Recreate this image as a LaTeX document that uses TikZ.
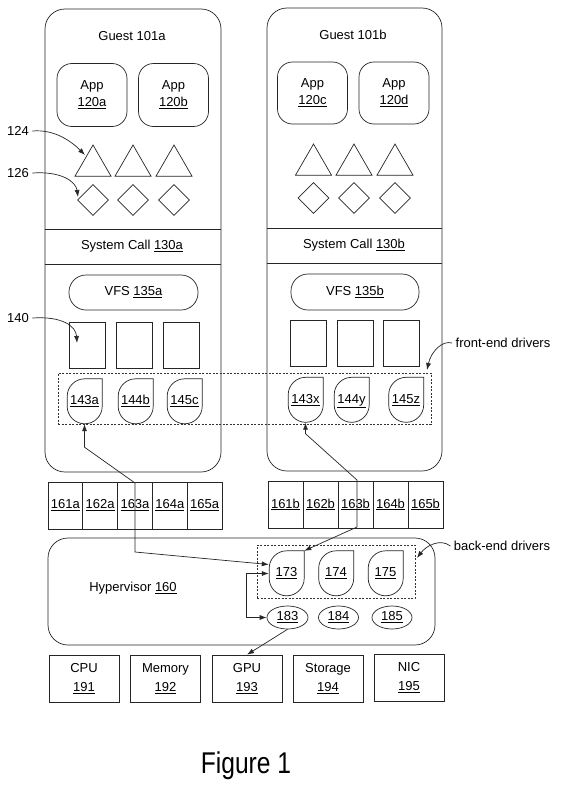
\documentclass[tikz,border=0pt]{standalone}
\usepackage{fontspec}
\usepackage{graphicx}
\setmainfont{Liberation Sans}
\usetikzlibrary{shapes.geometric,arrows.meta,calc}
\newcommand\dropnode[3]{%
  \node[dropbox] (#1) at (#2) {\underline{#3}};
  \draw[ln] (#1.north) -- (#1.north east) -- ++(0pt,-27.5pt)
    arc[start angle=0,end angle=-180,radius=17.5pt] -- ++(0pt,10pt)
    arc[start angle=180,end angle=90,radius=17.5pt] -- cycle;}
\begin{document}
\begin{tikzpicture}[x=1pt,y=-1pt,
  every node/.style={font=\fontsize{13}{17}\selectfont},
  ln/.style={draw=black!85, line width=0.7pt},
  guest/.style={ln, rounded corners=20pt, minimum width=176pt, minimum height=463pt, inner sep=0pt},
  app/.style={ln, rounded corners=15pt, minimum width=70pt, minimum height=63pt, align=center, inner sep=0pt},
  tri/.style={ln, regular polygon, regular polygon sides=3, minimum size=41.6pt, inner sep=0pt},
  dia/.style={ln, diamond, minimum width=31pt, minimum height=31pt, inner sep=0pt},
  vfs/.style={ln, rounded corners=17pt, minimum width=129pt, minimum height=35pt, inner sep=0pt},
  sq/.style={ln, minimum width=36pt, minimum height=46pt, inner sep=0pt},
  dropbox/.style={minimum width=35pt, minimum height=45pt, inner sep=0pt, text height=9.5pt, text depth=3pt},
  cell/.style={ln, minimum width=34.8pt, minimum height=47pt, inner sep=0pt},
  hw/.style={ln, minimum width=70pt, minimum height=47pt, align=center, inner sep=0pt, font=\fontsize{13}{19}\selectfont},
  ell/.style={ln, ellipse, minimum width=41pt, minimum height=23pt, inner sep=0pt},
  dbox/.style={draw=black!80, line width=0.6pt, dash pattern=on 2pt off 1.5pt, inner sep=0pt},
  arr/.style={ln, -{Latex[length=7pt,width=5pt]}},
  darr/.style={ln, {Latex[length=7pt,width=5pt]}-{Latex[length=7pt,width=5pt]}}
]
\useasboundingbox (0,0) rectangle (565,787);
\fill[white] (0,0) rectangle (565,787);

% Guests
\node[guest] (g1) at (133,240.5) {};
\node[guest, minimum width=175pt, minimum height=463pt] (g2) at (354.5,239.5) {};
\node (g1t) at (132,36) {Guest 101a};
\node (g2t) at (353,35) {Guest 101b};

% Apps
\node[app] (a1) at (92,95) {App\\\underline{120a}};
\node[app] (a2) at (173.5,95) {App\\\underline{120b}};
\node[app, minimum height=62pt] (a3) at (312.5,93) {App\\\underline{120c}};
\node[app, minimum height=62pt] (a4) at (394,93) {App\\\underline{120d}};

% Triangles
\node[tri] (t1) at (93,165.8) {};
\node[tri] (t2) at (133,165.8) {};
\node[tri] (t3) at (174,165.8) {};
\node[tri] (t4) at (313.5,164.8) {};
\node[tri] (t5) at (354,164.8) {};
\node[tri] (t6) at (395,164.8) {};

% Diamonds
\node[dia] (d1) at (93,200) {};
\node[dia] (d2) at (133,200) {};
\node[dia] (d3) at (174,200) {};
\node[dia] (d4) at (313.5,198) {};
\node[dia] (d5) at (354,198) {};
\node[dia] (d6) at (395,198) {};

% System call bands
\draw[ln] (g1.west |- 0,229) -- (g1.east |- 0,229);
\draw[ln] (g1.west |- 0,264) -- (g1.east |- 0,264);
\draw[ln] (g2.west |- 0,228) -- (g2.east |- 0,228);
\draw[ln] (g2.west |- 0,263) -- (g2.east |- 0,263);
\node (sc1) at (132,246) {System Call \underline{130a}};
\node (sc2) at (354,245) {System Call \underline{130b}};

% VFS
\node[vfs] (v1) at (133.5,292.5) {VFS \underline{135a}};
\node[vfs, minimum width=128pt, minimum height=36pt] (v2) at (355,292) {VFS \underline{135b}};

% Rectangles 140
\node[sq] (r1) at (87.5,345) {};
\node[sq] (r2) at (134.5,345) {};
\node[sq] (r3) at (181,345) {};
\node[sq] (r4) at (308.5,343.5) {};
\node[sq] (r5) at (355,343.5) {};
\node[sq] (r6) at (401.5,343.5) {};

% Front-end drivers
\node[dbox, minimum width=373pt, minimum height=51pt] (fdash) at (244.5,398.5) {};
\dropnode{f1}{84.5,401.5}{143a}
\dropnode{f2}{135.5,401.5}{144b}
\dropnode{f3}{184.5,401.5}{145c}
\dropnode{f4}{305.5,400}{143x}
\dropnode{f5}{351.5,400}{144y}
\dropnode{f6}{406,400}{145z}

% Cells
\node[cell] (c1) at (65.4,505.5) {\underline{161a}};
\node[cell] (c2) at (100.2,505.5) {\underline{162a}};
\node[cell] (c3) at (135,505.5) {\underline{163a}};
\node[cell] (c4) at (169.8,505.5) {\underline{164a}};
\node[cell] (c5) at (204.6,505.5) {\underline{165a}};
\node[cell, minimum width=35pt] (c6) at (285.5,504.5) {\underline{161b}};
\node[cell, minimum width=35pt] (c7) at (320.5,504.5) {\underline{162b}};
\node[cell, minimum width=35pt] (c8) at (355.5,504.5) {\underline{163b}};
\node[cell, minimum width=35pt] (c9) at (390.5,504.5) {\underline{164b}};
\node[cell, minimum width=35pt] (c10) at (425.5,504.5) {\underline{165b}};

% Hypervisor
\node[ln, rounded corners=20pt, minimum width=387pt, minimum height=107pt, inner sep=0pt] (hv) at (241.5,591.5) {};
\node (hvt) at (133,588) {Hypervisor \underline{160}};
\node[dbox, minimum width=158pt, minimum height=53pt] (bdash) at (336,571.5) {};
\dropnode{b1}{286.5,573.5}{173}
\dropnode{b2}{336,573.5}{174}
\dropnode{b3}{385.5,573.5}{175}
\node[ell] (e1) at (287.5,617.5) {\underline{183}};
\node[ell, minimum width=40pt] (e2) at (338.5,617.5) {\underline{184}};
\node[ell, minimum width=40pt] (e3) at (392,617.5) {\underline{185}};

% Hardware
\node[hw] (cpu) at (84,678.5) {CPU\\\underline{191}};
\node[hw] (mem) at (165.5,678.5) {Memory\\\underline{192}};
\node[hw] (gpu) at (247,678.5) {GPU\\\underline{193}};
\node[hw] (sto) at (328,678.5) {Storage\\\underline{194}};
\node[hw] (nic) at (409,678) {NIC\\\underline{195}};

% Connectors
\draw[darr] (f1.south) -- ++(0,23) -- (135,483) -- (135,552) -- ($(b1.west)+(0,-9)$);
\draw[darr] (f4.south) -- ++(0,11) -- (357,480) -- (357,527) -- (b1.north east);
\draw[darr] (b1.west) -- ++(-22,0) |- (e1.west);
\draw[arr] (e1.south) -- (gpu.north);

% Reference labels
\node (l124) at (18,131) {124};
\node (l126) at (18,173) {126};
\node (l140) at (18,318) {140};
\coordinate (p124) at (85,155);
\coordinate (p126) at (78,197);
\coordinate (p140) at (77,343);
\draw[arr] (l124.east) .. controls (55,129) and (72,142) .. (p124);
\draw[arr] (l126.east) .. controls (62,171) and (76,182) .. (p126);
\draw[arr] (l140.east) .. controls (62,316) and (76,326) .. (p140);

\node (fe) at (503,343) {front-end drivers};
\node (be) at (502,546) {back-end drivers};
\coordinate (pfe) at (427,370);
\coordinate (pbe) at (417,558);
\draw[arr] (fe.west) .. controls (442,340) and (431,352) .. (pfe);
\draw[arr] (be.west) .. controls (440,538) and (426,546) .. (pbe);

% Caption
\node (fig) at (246,766) {\fontsize{30}{30}\selectfont\scalebox{0.82}[1]{Figure 1}};
\end{tikzpicture}
\end{document}
